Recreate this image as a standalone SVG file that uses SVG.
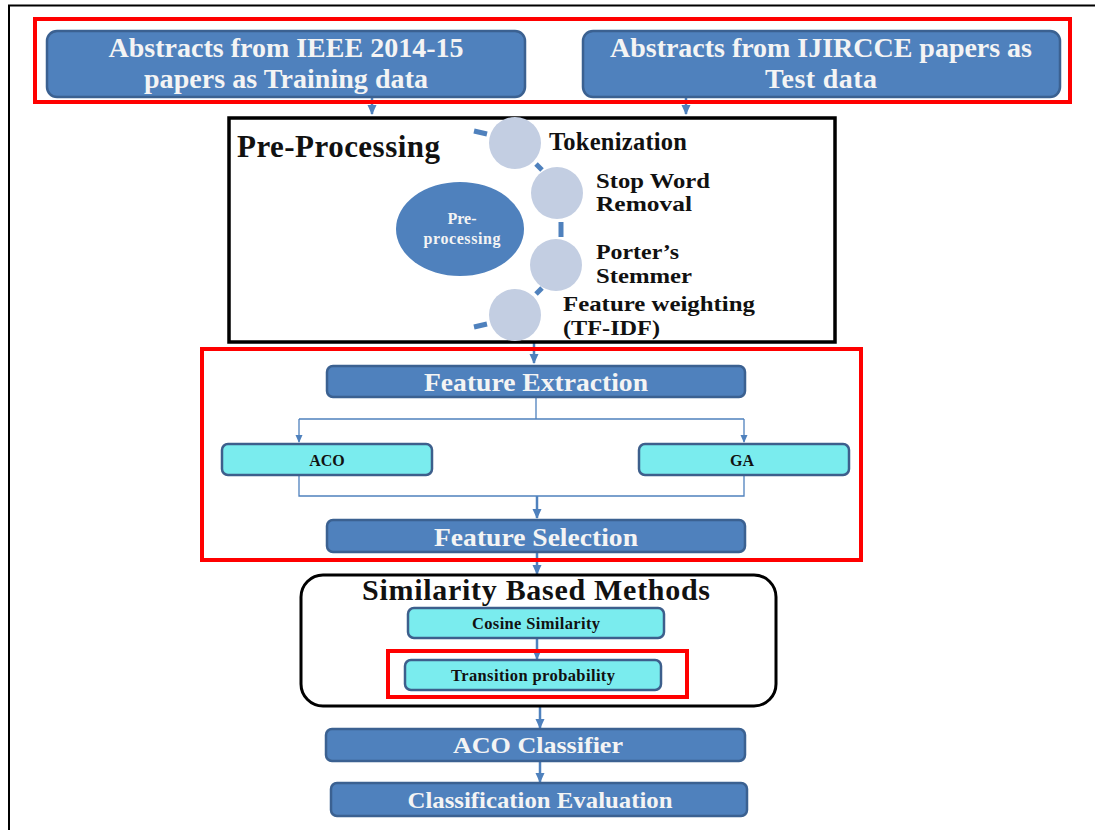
<svg xmlns="http://www.w3.org/2000/svg" width="1095" height="830" viewBox="0 0 1095 830">
<style>
.blue{fill:#4f81bd;stroke:#3b6191;stroke-width:2.5}
.cyan{fill:#7aecee;stroke:#3d5f8c;stroke-width:2.5}
.red{fill:none;stroke:#ff0000;stroke-width:4}
.wt{font-family:"Liberation Serif",serif;font-weight:bold;fill:#f4f4f4;text-anchor:middle}
.bt{font-family:"Liberation Serif",serif;font-weight:bold;fill:#111;text-anchor:middle}
.lt{font-family:"Liberation Serif",serif;font-weight:bold;fill:#111}
.conn{stroke:#4f81bd;fill:none}
.dash{stroke:#4f81bd;stroke-width:5;fill:none}
.circ{fill:#c3cee2}
</style>
<defs>
<marker id="ahs" markerWidth="10" markerHeight="10" refX="9" refY="5" orient="auto" markerUnits="userSpaceOnUse"><path d="M0,0.5 L10,5 L0,9.5 Z" fill="#4f81bd"/></marker>
<marker id="ahm" markerWidth="8" markerHeight="8" refX="7" refY="4" orient="auto" markerUnits="userSpaceOnUse"><path d="M0,0.5 L8,4 L0,7.5 Z" fill="#4f81bd"/></marker>
</defs>
<rect width="1095" height="830" fill="#fff"/>
<path d="M9,830 L9,5.5 L1095,5.5" fill="none" stroke="#000" stroke-width="2"/>

<g id="connectors">
<path class="conn" stroke-width="2.5" d="M372,92 L372,114" marker-end="url(#ahs)"/>
<path class="conn" stroke-width="2.5" d="M686,92 L686,114" marker-end="url(#ahs)"/>
<path class="conn" stroke-width="2.5" d="M534,343 L534,363" marker-end="url(#ahs)"/>
<path class="conn" stroke-width="1.3" d="M536,397 L536,419 M299,419 L744,419"/>
<path class="conn" stroke-width="1.3" d="M299,419 L299,442" marker-end="url(#ahm)"/>
<path class="conn" stroke-width="1.3" d="M744,419 L744,442" marker-end="url(#ahm)"/>
<path class="conn" stroke-width="1.3" d="M299,475 L299,496 L744,496 L744,475"/>
<path class="conn" stroke-width="2.5" d="M537,496 L537,518" marker-end="url(#ahs)"/>
<path class="conn" stroke-width="2.5" d="M537,552 L537,574" marker-end="url(#ahs)"/>
<path class="conn" stroke-width="2.5" d="M537,638 L537,659" marker-end="url(#ahs)"/>
<path class="conn" stroke-width="2.5" d="M540,706 L540,728" marker-end="url(#ahs)"/>
<path class="conn" stroke-width="2.5" d="M540,761 L540,782" marker-end="url(#ahs)"/>
</g>

<g id="input-group">
<rect class="red" x="35" y="19" width="1035" height="83"/>
</g>
<g id="training">
<rect class="blue" x="47" y="31" width="478" height="66" rx="10"/>
<text class="wt" x="286" y="57" font-size="28" textLength="355" lengthAdjust="spacing">Abstracts from IEEE 2014-15</text>
<text class="wt" x="286" y="88" font-size="28" textLength="284" lengthAdjust="spacing">papers as Training data</text>
</g>
<g id="test">
<rect class="blue" x="583" y="31" width="477" height="66" rx="10"/>
<text class="wt" x="821" y="57" font-size="28" textLength="422" lengthAdjust="spacing">Abstracts from IJIRCCE papers as</text>
<text class="wt" x="821" y="88" font-size="28" textLength="112" lengthAdjust="spacing">Test data</text>
</g>

<g id="preprocessing">
<rect x="229" y="118" width="606" height="224" fill="none" stroke="#000" stroke-width="3.5"/>
<text class="lt" x="237" y="157" font-size="31" textLength="203" lengthAdjust="spacing">Pre-Processing</text>
<ellipse cx="460" cy="229" rx="64" ry="47" fill="#4f81bd"/>
<text class="wt" x="462" y="224" font-size="16">Pre-</text>
<text class="wt" x="462" y="244" font-size="16" textLength="77" lengthAdjust="spacing">processing</text>
<line class="dash" x1="474" y1="131" x2="487" y2="134"/>
<line class="dash" x1="536" y1="164" x2="542" y2="170"/>
<line class="dash" x1="561" y1="222" x2="561" y2="237"/>
<line class="dash" x1="536" y1="294" x2="542" y2="288"/>
<line class="dash" x1="474" y1="327" x2="487" y2="324"/>
<circle class="circ" cx="515" cy="143" r="26"/>
<circle class="circ" cx="557" cy="193" r="26"/>
<circle class="circ" cx="556" cy="265" r="26"/>
<circle class="circ" cx="515" cy="315" r="26"/>
<text class="lt" x="549" y="150" font-size="24.5" textLength="138" lengthAdjust="spacing">Tokenization</text>
<text class="lt" x="596" y="188" font-size="22" textLength="114" lengthAdjust="spacingAndGlyphs">Stop Word</text>
<text class="lt" x="596" y="211" font-size="22" textLength="96" lengthAdjust="spacingAndGlyphs">Removal</text>
<text class="lt" x="596" y="259" font-size="22" textLength="83" lengthAdjust="spacingAndGlyphs">Porter’s</text>
<text class="lt" x="596" y="283" font-size="22" textLength="96" lengthAdjust="spacingAndGlyphs">Stemmer</text>
<text class="lt" x="563" y="311" font-size="22" textLength="192" lengthAdjust="spacingAndGlyphs">Feature weighting</text>
<text class="lt" x="563" y="335" font-size="22" textLength="97" lengthAdjust="spacingAndGlyphs">(TF-IDF)</text>
</g>

<g id="feature-group">
<rect class="red" x="202" y="349" width="659" height="211"/>
</g>
<g id="feature-extraction">
<rect class="blue" x="327" y="366" width="418" height="31" rx="6"/>
<text class="wt" x="536" y="391" font-size="26" textLength="224" lengthAdjust="spacingAndGlyphs">Feature Extraction</text>
</g>
<g id="aco">
<rect class="cyan" x="222" y="444" width="210" height="31" rx="6"/>
<text class="bt" x="327" y="466" font-size="16">ACO</text>
</g>
<g id="ga">
<rect class="cyan" x="639" y="444" width="210" height="31" rx="6"/>
<text class="bt" x="742" y="466" font-size="16">GA</text>
</g>
<g id="feature-selection">
<rect class="blue" x="327" y="520" width="418" height="32" rx="6"/>
<text class="wt" x="536" y="546" font-size="26" textLength="204" lengthAdjust="spacingAndGlyphs">Feature Selection</text>
</g>

<g id="similarity">
<rect x="301" y="575" width="475" height="131" rx="22" fill="none" stroke="#000" stroke-width="3"/>
<text class="bt" x="536" y="600" font-size="30" textLength="348" lengthAdjust="spacing">Similarity Based Methods</text>
</g>
<g id="cosine">
<rect class="cyan" x="408" y="608" width="256" height="30" rx="6"/>
<text class="bt" x="536" y="629" font-size="16.5" textLength="128" lengthAdjust="spacing">Cosine Similarity</text>
</g>
<g id="transition">
<rect class="red" x="388" y="651" width="299" height="46"/>
<rect class="cyan" x="405" y="660" width="256" height="30" rx="6"/>
<text class="bt" x="533" y="681" font-size="16.5" textLength="164" lengthAdjust="spacing">Transition probability</text>
</g>

<g id="aco-classifier">
<rect class="blue" x="326" y="729" width="419" height="32" rx="6"/>
<text class="wt" x="538" y="753" font-size="23" textLength="170" lengthAdjust="spacingAndGlyphs">ACO Classifier</text>
</g>
<g id="evaluation">
<rect class="blue" x="331" y="783" width="416" height="33" rx="6"/>
<text class="wt" x="540" y="808" font-size="23" textLength="265" lengthAdjust="spacingAndGlyphs">Classification Evaluation</text>
</g>
</svg>
